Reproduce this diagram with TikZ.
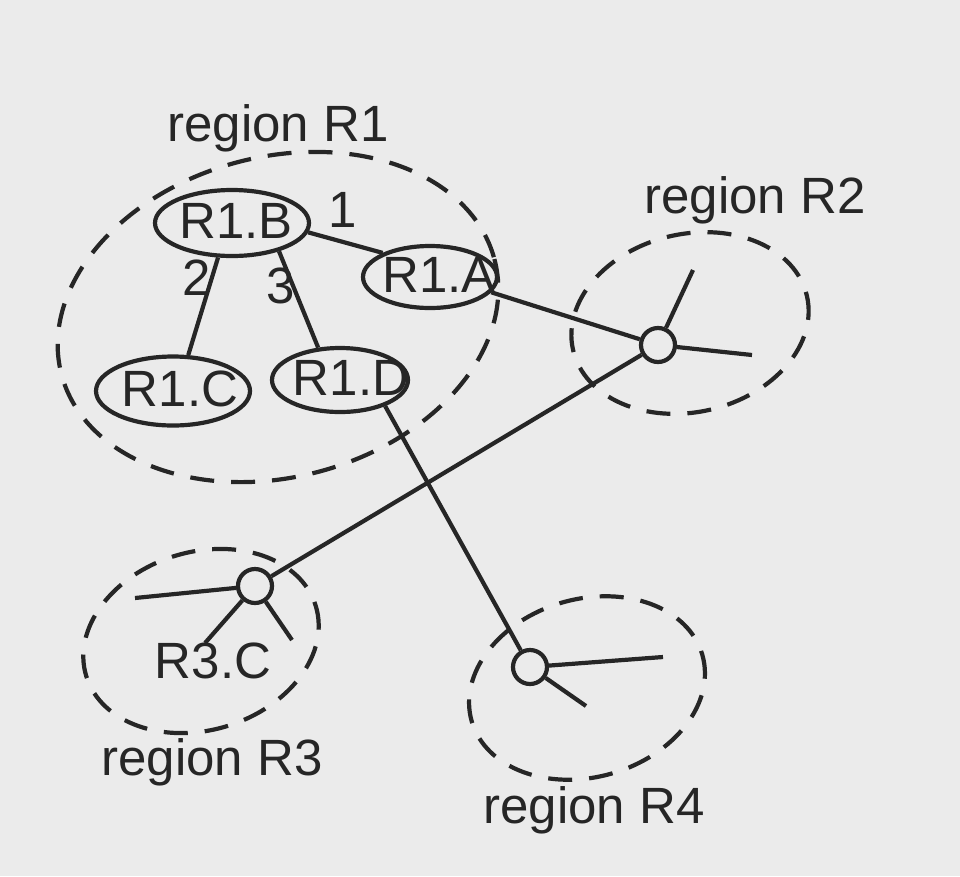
\documentclass[tikz,border=0pt]{standalone}
\usepackage{fontspec}
\setmainfont{Liberation Sans}
\usetikzlibrary{shapes.geometric}
\definecolor{bg}{HTML}{EBEBEB}
\definecolor{ink}{HTML}{262626}
\begin{document}
\begin{tikzpicture}[x=1pt,y=-1pt,
  every node/.style={text=ink,font=\fontsize{51}{60}\selectfont},
  ell/.style={draw=ink,line width=4.2pt,ellipse,inner sep=0pt},
  hub/.style={draw=ink,line width=4.2pt,circle,minimum size=34pt,inner sep=0pt},
  region/.style={draw=ink,line width=4.2pt,dash pattern=on 24pt off 17pt},
  edge/.style={draw=ink,line width=4.2pt},
  txt/.style={inner sep=0pt}]
\fill[bg] (0,0) rectangle (960,876);
\useasboundingbox (0,0) rectangle (960,876);
% regions
\draw[region,rotate around={15:(278,317)}] (278,317) ellipse [x radius=224,y radius=160];
\draw[region,rotate around={13:(690,323)}] (690,323) ellipse [x radius=120,y radius=89];
\draw[region,rotate around={17:(201,641)}] (201,641) ellipse [x radius=120,y radius=89];
\draw[region,rotate around={16:(587,688)}] (587,688) ellipse [x radius=120,y radius=89];
% region labels
\node[txt] (lR1) at (278,128) {region R1};
\node[txt] (lR2) at (755,200) {region R2};
\node[txt] (lR3) at (212,762) {region R3};
\node[txt] (lR4) at (594,810) {region R4};
% ellipse nodes
\node[ell,minimum width=154pt,minimum height=66pt] (R1B) at (232,223) {};
\node[ell,minimum width=134pt,minimum height=62pt] (R1A) at (430,277) {};
\node[ell,minimum width=154pt,minimum height=69pt] (R1C) at (173,391) {};
\node[ell,minimum width=136pt,minimum height=64pt] (R1D) at (340,380) {};
\node[txt] (tB) at (236,221) {R1.B};
\node[txt] (tA) at (439,275) {R1.A};
\node[txt] (tC) at (180,389) {R1.C};
\node[txt] (tD) at (351,378) {R1.D};
% hubs
\node[hub] (h2) at (658,345) {};
\node[hub] (h3) at (255,586) {};
\node[hub] (h4) at (530,667) {};
\node[txt] (r3c) at (213,661) {R3.C};
% spoke ends
\coordinate (s2a) at (693,270);
\coordinate (s2b) at (752,355);
\coordinate (s3a) at (135,598);
\coordinate (s3b) at (205,643);
\coordinate (s3c) at (292,640);
\coordinate (s4a) at (663,657);
\coordinate (s4b) at (586,706);
% edges
\draw[edge] (R1B.-7) -- (R1A.153);
\draw[edge] (R1B.-112) -- (R1C.67);
\draw[edge] (R1B.-31) -- (R1D.124);
\draw[edge] (R1A.-14) -- (h2);
\draw[edge] (h2) -- (h3);
\draw[edge] (R1D.-30) -- (h4);
\draw[edge] (h2) -- (s2a);
\draw[edge] (h2) -- (s2b);
\draw[edge] (h3) -- (s3a);
\draw[edge] (h3) -- (s3b);
\draw[edge] (h3) -- (s3c);
\draw[edge] (h4) -- (s4a);
\draw[edge] (h4) -- (s4b);
% edge labels
\node[txt] (e1) at (343,210) {1};
\node[txt] (e2) at (197,278) {2};
\node[txt] (e3) at (281,286) {3};
\end{tikzpicture}
\end{document}
